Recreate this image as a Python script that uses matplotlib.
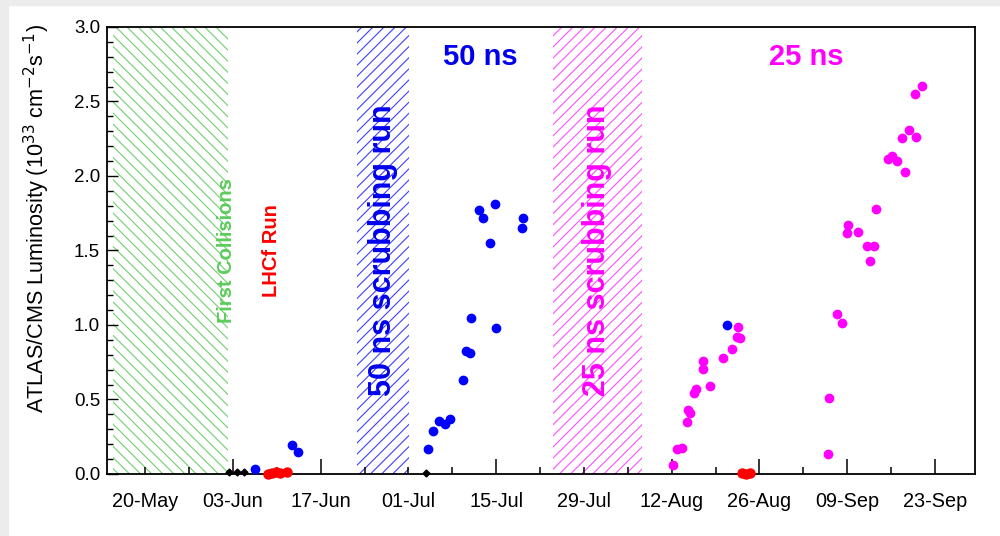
import numpy as np
import matplotlib.pyplot as plt
import matplotlib.dates as mdates
from matplotlib.patches import Rectangle

plt.rcParams['font.family'] = ['Liberation Sans', 'DejaVu Sans']
plt.rcParams['hatch.linewidth'] = 0.8

# ----------------------------------------------------
# data: days after 14 May 2015, peak luminosity (1e33)
# ----------------------------------------------------
start = np.datetime64('2015-05-14T00:00')

black_day = [19.4, 20.7, 21.8, 50.8]
black_lumi = [0.01, 0.01, 0.012, 0.008]

red_day = [25.6, 26.2, 26.9, 27.5, 28.6, 101.2, 101.9, 102.5]
red_lumi = [0.0, 0.005, 0.01, 0.005, 0.01, 0.005, 0.0, 0.005]

blue_day = [23.5, 29.4, 30.3,
            51.17, 51.87, 52.92, 53.83, 54.63, 56.75, 57.18, 57.82, 57.98,
            59.26, 59.94, 61.76, 61.01, 61.92, 66.22, 66.11, 98.8]
blue_lumi = [0.035, 0.195, 0.148,
             0.166, 0.289, 0.358, 0.336, 0.367, 0.633, 0.826, 0.814, 1.049,
             1.772, 1.718, 1.812, 1.548, 0.982, 1.720, 1.649, 0.998]

mag_day = [90.16, 90.89, 91.59, 92.39, 92.65, 92.92, 93.60, 93.83, 95.04, 95.04,
           96.06, 98.23, 99.67, 100.46, 100.89, 100.53,
           114.88, 115.09, 116.32, 117.16, 117.92, 118.13, 119.72, 121.11, 122.28,
           121.64, 122.59, 124.51, 125.15, 125.89, 126.69, 127.86, 129.02, 127.22,
           128.82, 129.98]
mag_lumi = [0.063, 0.168, 0.177, 0.347, 0.43, 0.407, 0.542, 0.568, 0.702, 0.756,
            0.589, 0.776, 0.837, 0.922, 0.915, 0.989,
            0.132, 0.508, 1.074, 1.011, 1.62, 1.669, 1.622, 1.530, 1.530,
            1.427, 1.778, 2.116, 2.134, 2.103, 2.253, 2.309, 2.262, 2.027,
            2.548, 2.602]

# shaded periods (days after 14 May)
collisions_span = (0.86, 19.2)
scrub50_span = (39.8, 48.1)
scrub25_span = (71.1, 85.3)

label_dates = ['2015-05-20', '2015-06-03', '2015-06-17', '2015-07-01', '2015-07-15',
               '2015-07-29', '2015-08-12', '2015-08-26', '2015-09-09', '2015-09-23']
short_label_ticks = ['2015-05-20', '2015-07-01', '2015-07-29']


def to_date(days):
    return start + (np.array(days) * 24 * 60).astype('timedelta64[m]')


# ----------------------------------------------------
# plot
# ----------------------------------------------------
fig = plt.figure(figsize=(10, 5.36), dpi=100)
fig.patches.append(Rectangle((0, 0), 0.008, 1, transform=fig.transFigure,
                             color='#ececec', zorder=-1))
fig.patches.append(Rectangle((0, 0.99), 1, 0.01, transform=fig.transFigure,
                             color='#ececec', zorder=-1))
ax = fig.add_axes([0.107, 0.1157, 0.868, 0.834])

for (a, b), col, hat in [(collisions_span, '#70d070', '\\\\\\'),
                         (scrub50_span, '#4040ff', '///'),
                         (scrub25_span, '#ff50ff', '///')]:
    ax.axvspan(to_date([a])[0], to_date([b])[0], facecolor='none',
               edgecolor=col, hatch=hat, linewidth=0, zorder=1)

ax.plot(to_date(black_day), black_lumi, 'D', color='black', ms=3.5, clip_on=False, zorder=3)
ax.plot(to_date(red_day), red_lumi, 'o', color='#ff0000', ms=6.5, clip_on=False, zorder=3)
ax.plot(to_date(blue_day), blue_lumi, 'o', color='#0000ff', ms=6, clip_on=False, zorder=3)
ax.plot(to_date(mag_day), mag_lumi, 'o', color='#ff00ff', ms=6, clip_on=False, zorder=3)

# annotations
ax.text(to_date([19.0])[0], 1.50, 'First Collisions', rotation=90, color='#5ccc5c',
        fontsize=14.5, fontweight='bold', ha='center', va='center')
ax.text(to_date([26.2])[0], 1.50, 'LHCf Run', rotation=90, color='#ff0000',
        fontsize=14.5, fontweight='bold', ha='center', va='center')
ax.text(to_date([44.0])[0], 1.50, '50 ns scrubbing run', rotation=90, color='#0000ee',
        fontsize=22, fontweight='bold', ha='center', va='center')
ax.text(to_date([78.1])[0], 1.50, '25 ns scrubbing run', rotation=90, color='#ff00ff',
        fontsize=22, fontweight='bold', ha='center', va='center')
ax.text(to_date([59.4])[0], 2.80, '50 ns', color='#0000ee', fontsize=21,
        fontweight='bold', ha='center', va='center')
ax.text(to_date([111.4])[0], 2.80, '25 ns', color='#ff00ff', fontsize=21,
        fontweight='bold', ha='center', va='center')

# axes
ax.set_xlim(to_date([-0.1])[0], to_date([138.4])[0])
ax.set_ylim(0, 3.0)
ax.set_yticks(np.arange(0, 3.01, 0.5))
ax.set_yticks(np.arange(0, 3.01, 0.1), minor=True)
ax.yaxis.set_major_formatter(plt.FormatStrFormatter('%.1f'))

major_x = [np.datetime64(d) for d in label_dates]
minor_x = [np.datetime64(d) + np.timedelta64(7, 'D') for d in label_dates[:-1]]
ax.set_xticks(major_x)
ax.set_xticks(minor_x, minor=True)
ax.xaxis.set_major_formatter(mdates.DateFormatter('%d-%b'))

ax.tick_params(axis='x', which='both', direction='in', top=False, labelsize=14.3, pad=13)
ax.tick_params(axis='x', which='major', length=11, width=1.1)
ax.tick_params(axis='x', which='minor', length=5, width=1.1)
ax.tick_params(axis='y', which='both', direction='in', right=False, labelsize=13.5, pad=5)
ax.tick_params(axis='y', which='major', length=8, width=1.0)
ax.tick_params(axis='y', which='minor', length=4.5, width=1.0)

for d, tick in zip(label_dates, ax.xaxis.get_major_ticks()):
    if d in short_label_ticks:
        tick.tick1line.set_markersize(5)

for s in ax.spines.values():
    s.set_linewidth(1.3)

fig.text(0.037, 0.955, 'ATLAS/CMS Luminosity (10$^{33}$ cm$^{-2}$s$^{-1}$)',
         rotation=90, ha='center', va='top', fontsize=15.6)

plt.savefig('out.png', dpi=100)
